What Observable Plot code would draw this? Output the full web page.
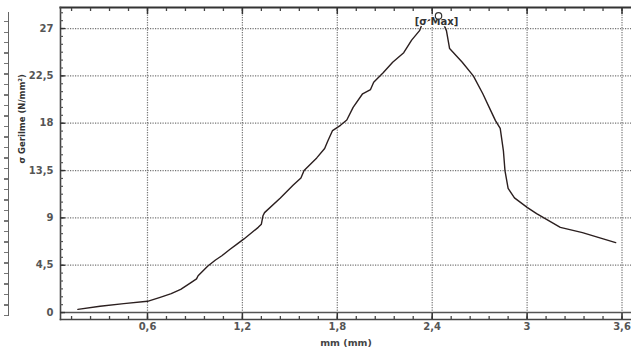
<!DOCTYPE html>
<html><head><meta charset="utf-8">
<script src="https://cdn.jsdelivr.net/npm/d3@7"></script>
<script src="https://cdn.jsdelivr.net/npm/@observablehq/plot@0.6"></script>
<style>
html,body{margin:0;padding:0;background:#fff;}
#wrap{position:relative;width:631px;height:352px;overflow:hidden;}
#wrap svg{position:absolute;left:0;top:0;}
#strip{position:absolute;left:0;top:12px;width:8px;height:304px;border-right:1.5px solid #666;
 background:repeating-linear-gradient(to bottom, transparent 0 9px, #777 9px 10.5px);background-size:4px 100%;background-repeat:no-repeat;background-position:right top;}
</style></head>
<body>
<div id="wrap"><div id="strip"></div></div>
<script>
// displacement (mm) and stress σ (N/mm²)
const displacement = [0.16,0.30,0.45,0.60,0.68,0.75,0.81,0.87,0.91,0.92,0.98,1.03,1.07,1.12,1.17,1.21,1.30,1.32,1.33,1.34,1.44,1.52,1.57,1.59,1.67,1.72,1.74,1.77,1.82,1.86,1.90,1.96,2.01,2.03,2.09,2.15,2.22,2.27,2.32,2.34,2.40,2.44,2.47,2.49,2.51,2.59,2.66,2.72,2.77,2.80,2.83,2.85,2.86,2.88,2.92,3.00,3.06,3.21,3.35,3.46,3.56];
const stress       = [0.30,0.60,0.85,1.07,1.45,1.80,2.20,2.80,3.20,3.50,4.40,5.00,5.40,6.00,6.55,7.00,8.10,8.40,9.20,9.50,10.9,12.1,12.8,13.5,14.7,15.6,16.3,17.3,17.8,18.3,19.5,20.8,21.2,21.9,22.8,23.8,24.7,25.9,26.8,27.6,27.9,28.2,27.5,26.8,25.1,23.8,22.5,20.8,19.2,18.25,17.5,15.4,13.5,11.8,10.9,10.0,9.4,8.1,7.6,7.1,6.65];
const xTickValues = [0.6,1.2,1.8,2.4,3,3.6];
const yTickValues = [0,4.5,9,13.5,18,22.5,27];
const xLabel = "mm (mm)";
const yLabel = "σ Gerilme (N/mm²)";
const peakLabel = "[σ Max]";
const xDomain = [0.05, 3.66];
const yDomain = [-0.66, 29.0];

const data = displacement.map((x, i) => ({x, y: stress[i]}));
const peak = data.reduce((a, b) => (b.y > a.y ? b : a));
const xMinor = d3.range(1, 31).map(i => +(i * 0.12).toFixed(2));
const yMinor = d3.range(0, 39).map(i => +(i * 0.75).toFixed(2));
const fmt = d => String(d).replace(".", ",");
const font = "DejaVu Sans";

const chart = Plot.plot({
  width: 631, height: 352,
  marginLeft: 60, marginRight: 0, marginTop: 7, marginBottom: 33,
  style: {fontFamily: font, background: "transparent", overflow: "visible"},
  x: {domain: xDomain},
  y: {domain: yDomain},
  marks: [
    Plot.gridX(xTickValues, {stroke: "#666", strokeOpacity: 0.9, strokeDasharray: "1.2,1.3", strokeWidth: 1.2}),
    Plot.gridY(yTickValues.filter(v => v > 0), {stroke: "#666", strokeOpacity: 0.9, strokeDasharray: "1.2,1.3", strokeWidth: 1.2}),
    Plot.ruleY([0], {stroke: "#555", strokeWidth: 1.6}),
    Plot.frame({anchor: "top", stroke: "#333", strokeWidth: 2.2}),
    Plot.frame({anchor: "left", stroke: "#444", strokeWidth: 1.6}),
    Plot.frame({anchor: "bottom", stroke: "#444", strokeWidth: 1.6}),
    // minor & major tick marks (inward)
    Plot.axisX(xMinor, {anchor: "bottom", tickSize: -3, text: null, label: null, stroke: "#444", strokeWidth: 1.3}),
    Plot.axisX(xTickValues, {anchor: "bottom", tickSize: -6, text: null, label: null, stroke: "#333", strokeWidth: 1.5}),
    Plot.axisX(xMinor, {anchor: "top", tickSize: -3, text: null, label: null, stroke: "#444", strokeWidth: 1.3}),
    Plot.axisX(xTickValues, {anchor: "top", tickSize: -6, text: null, label: null, stroke: "#333", strokeWidth: 1.5}),
    Plot.axisY(yMinor, {anchor: "left", tickSize: -3, text: null, label: null, stroke: "#555", strokeWidth: 1.2}),
    Plot.axisY(yTickValues, {anchor: "left", tickSize: -5, text: null, label: null, stroke: "#333", strokeWidth: 1.4}),
    // tick labels
    Plot.axisX(xTickValues, {anchor: "bottom", tickSize: 0, tickPadding: 3, tickFormat: fmt, label: null, fontSize: 10, fontWeight: "bold", fill: "#555"}),
    Plot.axisY(yTickValues, {anchor: "left", tickSize: 0, tickPadding: 7, tickFormat: fmt, label: null, fontSize: 10, fontWeight: "bold", fill: "#555"}),
    // axis titles
    Plot.text([xLabel], {text: d => d, frameAnchor: "bottom", dy: 23, lineAnchor: "middle", fontSize: 9.5, fontWeight: "bold", fill: "#444"}),
    Plot.text([yLabel], {text: d => d, frameAnchor: "left", dx: -38, rotate: -90, lineAnchor: "middle", fontSize: 8.5, fontWeight: "bold", fill: "#333"}),
    // curve
    Plot.line(data, {x: "x", y: "y", stroke: "#2b1f1f", strokeWidth: 1.4, curve: "linear"}),
    // peak annotation
    Plot.text([peak], {x: "x", y: "y", text: () => peakLabel, dy: 6, dx: -2, fontSize: 10, fill: "#333", stroke: "white", strokeWidth: 2.5, fontWeight: "bold"}),
    Plot.dot([peak], {x: "x", y: "y", r: 3.2, stroke: "#333", fill: "white", strokeWidth: 1.2})
  ]
});
document.getElementById("wrap").appendChild(chart);
</script>
</body></html>
